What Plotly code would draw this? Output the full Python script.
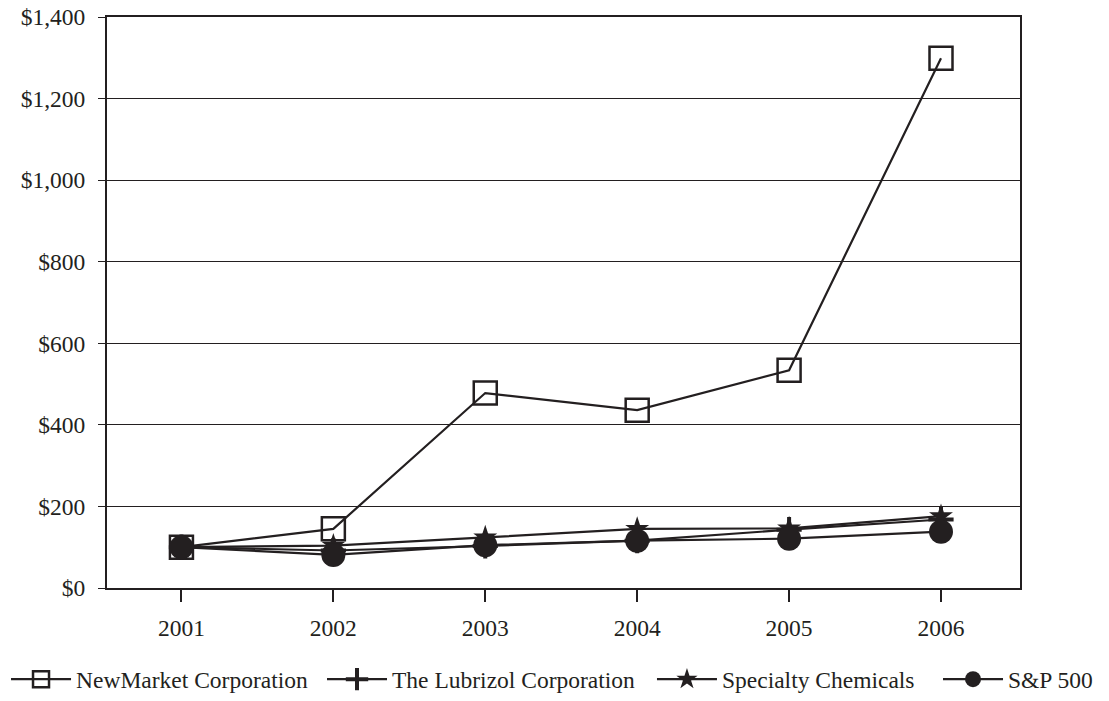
import plotly.graph_objects as go

years = ["2001", "2002", "2003", "2004", "2005", "2006"]
newmarket = [100, 145, 478, 436, 534, 1299]
lubrizol = [100, 92, 103, 116, 143, 168]
specialty = [100, 104, 124, 145, 146, 176]
sp500 = [100, 81, 105, 116, 121, 138]

ink = "#231f20"
fig = go.Figure()

series = [
    ("NewMarket Corporation", newmarket, "legend",
     dict(symbol="square-open", size=23, color=ink, line=dict(width=2.5, color=ink))),
    ("The Lubrizol Corporation", lubrizol, "legend2",
     dict(symbol="cross-thin-open", size=18, color=ink, line=dict(width=4, color=ink))),
    ("Specialty Chemicals", specialty, "legend3",
     dict(symbol="star", size=18, color=ink, line=dict(width=0))),
    ("S&P 500", sp500, "legend4",
     dict(symbol="circle", size=24, color=ink, line=dict(width=0))),
]
for name, vals, lg, mk in series:
    fig.add_trace(go.Scatter(x=years, y=vals, name=name, mode="lines+markers", legend=lg,
                             line=dict(color=ink, width=2.2), marker=mk))

legend_x = {"legend": -0.1106, "legend2": 0.2355, "legend3": 0.5969, "legend4": 0.9102}
leg_common = dict(orientation="h", xanchor="left", y=-0.16, yanchor="middle",
                  font=dict(size=23.5, family="Liberation Serif", color=ink),
                  itemwidth=60, bgcolor="rgba(0,0,0,0)")

fig.update_layout(
    width=1109, height=701,
    paper_bgcolor="white", plot_bgcolor="white",
    margin=dict(l=107, r=89, t=17, b=113, autoexpand=False),
    font=dict(family="Liberation Serif", size=23.5, color=ink),
    showlegend=True,
    xaxis=dict(showgrid=False, showline=True, linecolor=ink, linewidth=2, mirror=True,
               ticks="outside", ticklen=12, tickcolor=ink, tickwidth=1.5,
               range=[-0.49, 5.52], ticklabelstandoff=6, automargin=False),
    yaxis=dict(range=[0, 1400], dtick=200, tickprefix="$", tickformat=",",
               showgrid=True, gridcolor=ink, gridwidth=1,
               showline=True, linecolor=ink, linewidth=2, mirror=True,
               ticks="outside", ticklen=7, tickcolor=ink, zeroline=False,
               automargin=False, ticklabelstandoff=8, ticklabeloverflow="allow"),
)
for lg, xv in legend_x.items():
    fig.update_layout({lg: dict(x=xv, **leg_common)})

fig.write_html("out.html", config={"displayModeBar": False},
               post_script="document.body.style.margin='0';")
